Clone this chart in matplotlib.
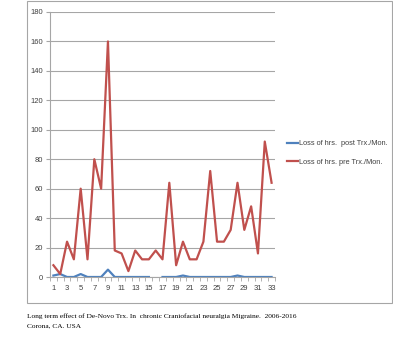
import numpy as np
import matplotlib
matplotlib.use("Agg")
import matplotlib.pyplot as plt
from matplotlib.patches import Rectangle

# data
months = list(range(1, 34))
pre_trx = [8, 2, 24, 12, 60, 12, 80, 60, 160, 18, 16, 4, 18, 12, 12, 18, 12,
           64, 8, 24, 12, 12, 24, 72, 24, 24, 32, 64, 32, 48, 16, 92, 64]
post_trx = [1, 2, 0, 0, 2, 0, 0, 0, 5, 0, 0, 0, 0, 0, 0, np.nan, 0,
            0, 0, 1, 0, 0, 0, 0, 0, 0, 0, 1, 0, 0, 0, 0, 0]
y_ticks = list(range(0, 181, 20))
x_labels = list(range(1, 34, 2))

plt.rcParams["font.family"] = ["Liberation Sans", "DejaVu Sans"]

W, H = 393, 346
fig = plt.figure(figsize=(W / 100, H / 100), dpi=100)

# chart frame like the excel chart area
fig.patches.append(Rectangle((27 / W, 1 - 303 / H), 365 / W, 302 / H,
                             transform=fig.transFigure, fill=False,
                             edgecolor="#a6a6a6", lw=0.8))

ax = fig.add_axes([50 / W, 1 - 277 / H, 225 / W, 265 / H])
ax.plot(months, post_trx, color="#4f81bd", lw=1.6,
        label="Loss of hrs.  post Trx./Mon.")
ax.plot(months, pre_trx, color="#c0504d", lw=1.6,
        label="Loss of hrs. pre Trx./Mon.")

ax.set_xlim(0.5, 33.5)
ax.set_ylim(0, 180)
ax.set_yticks(y_ticks)
ax.set_xticks(x_labels)
ax.set_xticks(np.arange(0.5, 34, 1), minor=True)
ax.tick_params(axis="x", which="major", length=0, labelsize=5.5, pad=6,
               labelcolor="#404040")
ax.tick_params(axis="x", which="minor", length=3, color="#a6a6a6")
ax.tick_params(axis="y", length=3, color="#a6a6a6", labelsize=5.5, pad=2,
               labelcolor="#404040")
ax.yaxis.grid(True, color="#a6a6a6", lw=0.8)
ax.set_axisbelow(True)
for s in ["top", "right"]:
    ax.spines[s].set_visible(False)
ax.spines["left"].set_color("#a6a6a6")
ax.spines["bottom"].set_color("#a6a6a6")

fig.legend(loc="upper left", bbox_to_anchor=(284 / W, 1 - 137 / H),
           frameon=False, fontsize=5.3, handlelength=1.5, handletextpad=0.1,
           labelspacing=1.6, borderaxespad=0, labelcolor="#404040")

fig.text(27 / W, 1 - 318 / H,
         "Long term effect of De-Novo Trx. In  chronic Craniofacial neuralgia Migraine.  2006-2016",
         family="Liberation Serif", fontsize=5.3)
fig.text(27 / W, 1 - 327 / H, "Corona, CA. USA",
         family="Liberation Serif", fontsize=5.3)

fig.savefig("out.png", dpi=100)
